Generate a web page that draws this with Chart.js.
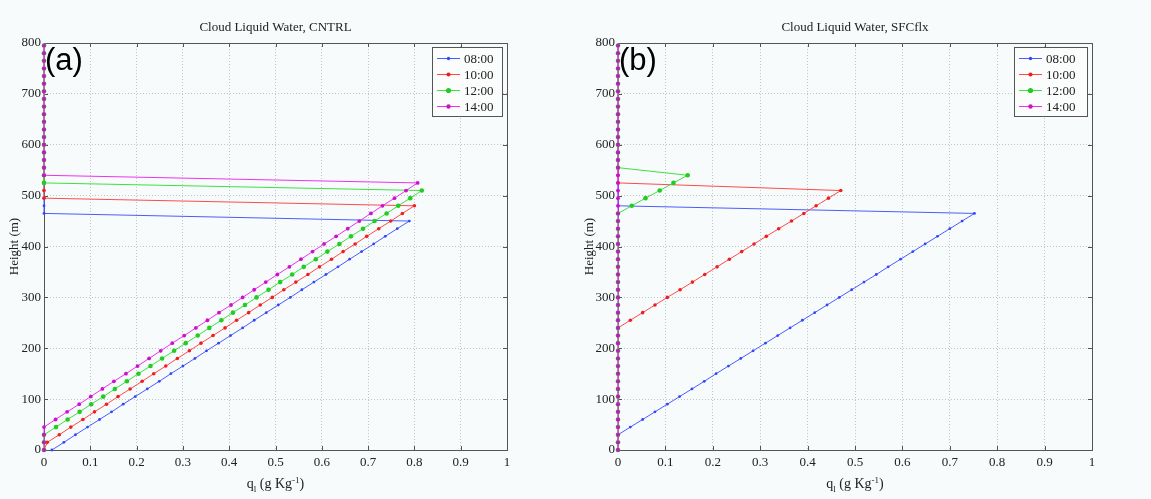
<!DOCTYPE html>
<html>
<head>
<meta charset="utf-8">
<script src="https://cdn.jsdelivr.net/npm/chart.js@4.4.1/dist/chart.umd.min.js"></script>
<style>
  html, body { margin: 0; padding: 0; background: #f7fbfb; }
  #wrap { position: relative; width: 1151px; height: 499px; }
  canvas { position: absolute; top: 0; }
</style>
</head>
<body>
<div id="wrap">
  <canvas id="chartA" width="575" height="499" style="left:0"></canvas>
  <canvas id="chartB" width="576" height="499" style="left:575px"></canvas>
</div>
<script>
// legend entries (time of day)
const times = ['08:00', '10:00', '12:00', '14:00'];

// model levels (m)
const levels = [0, 15, 30, 45, 60, 75, 90, 105, 120, 135, 150, 165, 180, 195, 210, 225, 240, 255,
  270, 285, 300, 315, 330, 345, 360, 375, 390, 405, 420, 435, 450, 465, 480, 495, 510, 525,
  540, 555, 570, 585, 600, 615, 630, 645, 660, 675, 690, 705, 720, 735, 750, 765, 780, 795];

// (a) CNTRL, q_l at each level
const cntrl08 = [0.017, 0.043, 0.068, 0.094, 0.120, 0.146, 0.171, 0.197, 0.223, 0.249, 0.274, 0.300,
  0.326, 0.351, 0.377, 0.403, 0.429, 0.454, 0.480, 0.506, 0.532, 0.557, 0.583, 0.609, 0.635, 0.660,
  0.686, 0.712, 0.737, 0.763, 0.789,
  0, 0, 0, 0, 0, 0, 0, 0, 0, 0, 0, 0, 0, 0, 0, 0, 0, 0, 0, 0, 0, 0, 0];
const cntrl10 = [0, 0.007, 0.033, 0.058, 0.084, 0.109, 0.135, 0.160, 0.186, 0.212, 0.237, 0.263,
  0.288, 0.314, 0.339, 0.365, 0.391, 0.416, 0.442, 0.467, 0.493, 0.518, 0.544, 0.570, 0.595, 0.621,
  0.646, 0.672, 0.697, 0.723, 0.749, 0.774, 0.800,
  0, 0, 0, 0, 0, 0, 0, 0, 0, 0, 0, 0, 0, 0, 0, 0, 0, 0, 0, 0, 0];
const cntrl12 = [0, 0, 0, 0.026, 0.051, 0.077, 0.102, 0.128, 0.153, 0.179, 0.204, 0.230, 0.255,
  0.281, 0.306, 0.332, 0.357, 0.383, 0.408, 0.434, 0.459, 0.485, 0.510, 0.536, 0.561, 0.587, 0.612,
  0.638, 0.663, 0.689, 0.714, 0.740, 0.765, 0.791, 0.816,
  0, 0, 0, 0, 0, 0, 0, 0, 0, 0, 0, 0, 0, 0, 0, 0, 0, 0, 0];
const cntrl14 = [0, 0, 0, 0, 0.025, 0.050, 0.076, 0.101, 0.126, 0.151, 0.177, 0.202, 0.227, 0.252,
  0.277, 0.303, 0.328, 0.353, 0.378, 0.404, 0.429, 0.454, 0.479, 0.504, 0.530, 0.555, 0.580, 0.605,
  0.631, 0.656, 0.681, 0.706, 0.731, 0.757, 0.782, 0.807,
  0, 0, 0, 0, 0, 0, 0, 0, 0, 0, 0, 0, 0, 0, 0, 0, 0, 0];

// (b) SFCflx, q_l at each level
const sfc08 = [0, 0, 0, 0.026, 0.052, 0.078, 0.104, 0.130, 0.156, 0.182, 0.207, 0.233, 0.259, 0.285,
  0.311, 0.337, 0.363, 0.389, 0.415, 0.441, 0.467, 0.493, 0.519, 0.545, 0.570, 0.596, 0.622, 0.648,
  0.674, 0.700, 0.726, 0.752,
  0, 0, 0, 0, 0, 0, 0, 0, 0, 0, 0, 0, 0, 0, 0, 0, 0, 0, 0, 0, 0, 0];
const sfc10 = [0, 0, 0, 0, 0, 0, 0, 0, 0, 0, 0, 0, 0, 0, 0, 0, 0,
  0.026, 0.052, 0.078, 0.104, 0.131, 0.157, 0.183, 0.209, 0.235, 0.261, 0.287, 0.313, 0.339, 0.366,
  0.392, 0.418, 0.444, 0.470,
  0, 0, 0, 0, 0, 0, 0, 0, 0, 0, 0, 0, 0, 0, 0, 0, 0, 0, 0];
const sfc12 = [0, 0, 0, 0, 0, 0, 0, 0, 0, 0, 0, 0, 0, 0, 0, 0, 0, 0, 0, 0, 0, 0, 0, 0, 0, 0, 0, 0,
  0, 0, 0, 0, 0.029, 0.058, 0.088, 0.117, 0.147,
  0, 0, 0, 0, 0, 0, 0, 0, 0, 0, 0, 0, 0, 0, 0, 0, 0];
const sfc14 = [0, 0, 0, 0, 0, 0, 0, 0, 0, 0, 0, 0, 0, 0, 0, 0, 0, 0, 0, 0, 0, 0, 0, 0, 0, 0, 0,
  0, 0, 0, 0, 0, 0, 0, 0, 0, 0, 0, 0, 0, 0, 0, 0, 0, 0, 0, 0, 0, 0, 0, 0, 0, 0, 0];

const xTickLabels = ['0', '0.1', '0.2', '0.3', '0.4', '0.5', '0.6', '0.7', '0.8', '0.9', '1'];
const yTickLabels = ['0', '100', '200', '300', '400', '500', '600', '700', '800'];

const lineColors = ['#4a5cff', '#ff4a4a', '#3fe03f', '#f030f0'];
const markerColors = ['#2f45ff', '#f01e1e', '#22cc22', '#cc11cc'];
const markerSizes = [1.4, 1.8, 2.3, 1.9];

const serif = '"Liberation Serif", "Times New Roman", serif';

// box, inner ticks (under the data)
const framePlugin = {
  id: 'frame',
  beforeDatasetsDraw(chart) {
    const { ctx, chartArea: a, scales: { x, y } } = chart;
    ctx.save();
    ctx.strokeStyle = '#555';
    ctx.lineWidth = 1;
    ctx.strokeRect(a.left + 0.5, a.top + 0.5, a.right - a.left, a.bottom - a.top);
    ctx.beginPath();
    x.ticks.forEach(t => {
      const px = Math.round(x.getPixelForValue(t.value)) + 0.5;
      ctx.moveTo(px, a.bottom); ctx.lineTo(px, a.bottom - 4);
      ctx.moveTo(px, a.top); ctx.lineTo(px, a.top + 4);
    });
    y.ticks.forEach(t => {
      const py = Math.round(y.getPixelForValue(t.value)) + 0.5;
      ctx.moveTo(a.left, py); ctx.lineTo(a.left + 4, py);
      ctx.moveTo(a.right, py); ctx.lineTo(a.right - 4, py);
    });
    ctx.stroke();
    ctx.restore();
  },
  afterDraw(chart, args, opts) {
    const { ctx, chartArea: a } = chart;
    const cx = (a.left + a.right) / 2;
    ctx.save();
    ctx.fillStyle = '#222';

    // title
    ctx.font = '13px ' + serif;
    ctx.textAlign = 'center';
    ctx.textBaseline = 'middle';
    ctx.fillText(opts.title, cx, 28);

    // y title
    ctx.save();
    ctx.translate(15, (a.top + a.bottom) / 2);
    ctx.rotate(-Math.PI / 2);
    ctx.font = '13px ' + serif;
    ctx.fillText('Height (m)', 0, 0);
    ctx.restore();

    // x title: q_l (g Kg^-1)
    const parts = [['q', 14, 0], ['l', 9, 4], [' (g Kg', 14, 0], ['-1', 9, -5], [')', 14, 0]];
    let total = 0;
    parts.forEach(p => { ctx.font = p[1] + 'px ' + serif; total += ctx.measureText(p[0]).width; });
    let px = cx - total / 2;
    ctx.textAlign = 'left';
    ctx.textBaseline = 'alphabetic';
    parts.forEach(p => {
      ctx.font = p[1] + 'px ' + serif;
      ctx.fillText(p[0], px, 488 + p[2]);
      px += ctx.measureText(p[0]).width;
    });

    // panel letter
    ctx.fillStyle = '#000';
    ctx.font = '31px "Liberation Sans", Arial, sans-serif';
    ctx.fillText(opts.letter, a.left + 1, 70);

    // legend box
    const w = opts.legendWidth, h = 69;
    const lx = a.right - w - 5, ly = a.top + 4;
    ctx.fillStyle = '#fbfdfd';
    ctx.fillRect(lx, ly, w, h);
    ctx.strokeStyle = '#555';
    ctx.lineWidth = 1;
    ctx.strokeRect(lx + 0.5, ly + 0.5, w, h);
    ctx.font = '13px ' + serif;
    ctx.textBaseline = 'middle';
    times.forEach((label, i) => {
      const ey = ly + 11.5 + 16 * i;
      ctx.strokeStyle = lineColors[i];
      ctx.beginPath();
      ctx.moveTo(lx + 5, ey); ctx.lineTo(lx + 28, ey);
      ctx.stroke();
      ctx.fillStyle = markerColors[i];
      ctx.beginPath();
      ctx.arc(lx + 16.5, ey, markerSizes[i] + 0.3, 0, Math.PI * 2);
      ctx.fill();
      ctx.fillStyle = '#222';
      ctx.fillText(label, lx + 32, ey + 1);
    });
    ctx.restore();
  }
};

function makeChart(id, series, opts) {
  return new Chart(document.getElementById(id), {
    type: 'scatter',
    data: {
      datasets: series.map((q, i) => ({
        label: times[i],
        data: levels.map((h, k) => ({ x: q[k], y: h })),
        showLine: true,
        borderColor: lineColors[i],
        borderWidth: 1,
        backgroundColor: markerColors[i],
        pointBackgroundColor: markerColors[i],
        pointBorderWidth: 0,
        pointRadius: markerSizes[i],
        pointHoverRadius: markerSizes[i],
        tension: 0,
        clip: false,
        order: 4 - i
      }))
    },
    options: {
      responsive: false,
      animation: false,
      events: [],
      layout: { padding: { top: 43, right: opts.padRight, bottom: 0, left: 0 } },
      plugins: {
        legend: { display: false },
        tooltip: { enabled: false },
        frame: opts
      },
      scales: {
        x: {
          type: 'linear', min: 0, max: 1,
          afterFit: s => { s.height = 49; },
          grid: { color: '#c4c4c4', drawTicks: false },
          border: { display: false, dash: [1, 2] },
          ticks: {
            stepSize: 0.1, autoSkip: false, maxRotation: 0, padding: 5,
            color: '#222', font: { family: serif, size: 13 },
            callback: (v, i) => xTickLabels[i]
          }
        },
        y: {
          type: 'linear', min: 0, max: 800,
          afterFit: s => { s.width = opts.yWidth; },
          grid: { color: '#c4c4c4', drawTicks: false },
          border: { display: false, dash: [1, 2] },
          ticks: {
            stepSize: 100, autoSkip: false, padding: 3,
            color: '#222', font: { family: serif, size: 13 },
            callback: (v, i) => yTickLabels[i]
          }
        }
      }
    },
    plugins: [framePlugin]
  });
}

makeChart('chartA', [cntrl08, cntrl10, cntrl12, cntrl14],
  { title: 'Cloud Liquid Water, CNTRL', letter: '(a)', yWidth: 44, padRight: 68, legendWidth: 70 });
makeChart('chartB', [sfc08, sfc10, sfc12, sfc14],
  { title: 'Cloud Liquid Water, SFCflx', letter: '(b)', yWidth: 43, padRight: 59, legendWidth: 73 });
</script>
</body>
</html>
